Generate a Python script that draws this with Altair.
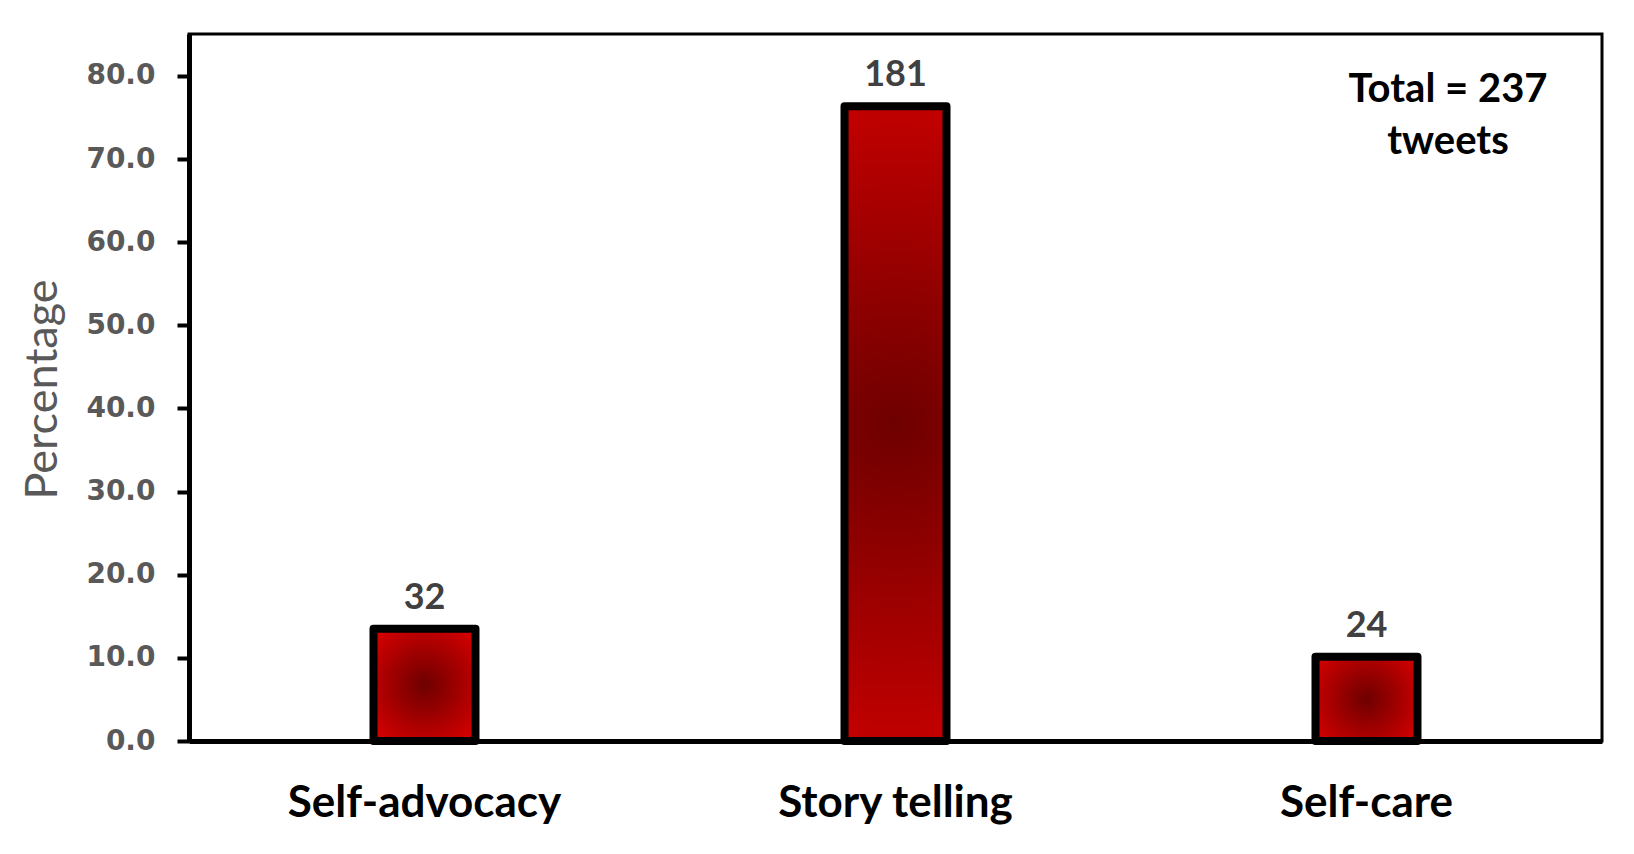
import altair as alt
import pandas as pd

categories = ["Self-advocacy", "Story telling", "Self-care"]
counts = [32, 181, 24]
total = sum(counts)
percentages = [c / total * 100 for c in counts]
y_ticks = [0, 10, 20, 30, 40, 50, 60, 70, 80]
annotation_lines = [f"Total = {total}", "tweets"]

df = pd.DataFrame({"category": categories, "count": counts, "pct": percentages})

gradient = alt.Gradient(
    gradient="radial",
    stops=[alt.GradientStop(color="#6e0000", offset=0),
           alt.GradientStop(color="#d20000", offset=1)],
    x1=0.5, y1=0.5, r1=0, x2=0.5, y2=0.5, r2=0.6,
)

x_enc = alt.X(
    "category:N", sort=categories,
    scale=alt.Scale(paddingInner=0, paddingOuter=0),
    axis=alt.Axis(title=None, labelAngle=0, ticks=False, tickSize=0, labelLimit=0,
                  labelFont="Lato", labelFontWeight="bold", labelFontSize=44,
                  labelColor="black", labelPadding=75, labelBaseline="alphabetic",
                  domainColor="black", domainWidth=5),
)
y_enc = alt.Y(
    "pct:Q",
    scale=alt.Scale(domain=[0, 85.05], nice=False),
    axis=alt.Axis(values=y_ticks, format=".1f", title="Percentage",
                  titleFont="Lato", titleFontSize=45, titleFontWeight="normal",
                  titleColor="#595959", titleX=-147, titleY=355, titleAngle=-90,
                  titleBaseline="middle", titleAlign="center",
                  labelFont="DejaVu Sans", labelFontWeight="bold", labelFontSize=28,
                  labelColor="#595959", labelPadding=22, tickSize=12, tickWidth=4,
                  tickColor="black", domainWidth=5, domainColor="black", grid=False),
)

bars = alt.Chart(df).mark_bar(
    size=102, fill=gradient, stroke="black", strokeWidth=8, strokeJoin="round"
).encode(x=x_enc, y=y_enc)

labels = alt.Chart(df).mark_text(
    font="Lato", fontWeight="bold", fontSize=36, color="#404040",
    dy=-20, baseline="alphabetic", align="center"
).encode(x=x_enc, y=y_enc, text="count:Q")

annot = alt.Chart(pd.DataFrame({"a": [0]})).mark_text(
    text=annotation_lines, font="Lato", fontWeight="bold", fontSize=40,
    color="black", align="center", baseline="alphabetic", lineHeight=52
).encode(x=alt.value(1259), y=alt.value(68))

chart = alt.layer(bars, labels, annot).properties(
    width=1413, height=707,
    autosize=alt.AutoSizeParams(type="none"),
    padding={"left": 181, "top": 26, "right": 20, "bottom": 90},
    background="white",
).configure_view(stroke="black", strokeWidth=3)

chart.save("out.html", embed_options={"renderer": "svg", "actions": False})
